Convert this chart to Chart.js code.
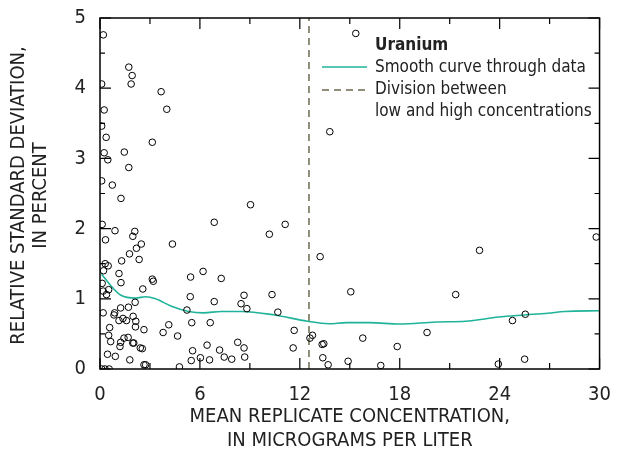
<!DOCTYPE html>
<html>
<head>
<meta charset="utf-8">
<script src="https://cdn.jsdelivr.net/npm/chart.js@4"></script>
<style>
  body { margin: 0; background: #fff; }
  canvas { display: block; }
</style>
</head>
<body>
<canvas id="rsdChart" width="617" height="457"></canvas>
<script>
// uranium replicate pairs: mean concentration (ug/L) and relative standard deviation (%)
const concX = [
  0.2, 1.73, 1.93, 0.1, 1.87, 3.67, 0.25, 4.01, 0.1, 0.37, 3.14, 0.25, 0.47, 1.46, 1.73, 0.1,
  0.74, 1.26, 0.13, 0.9, 2.09, 1.97, 0.33, 2.48, 2.19, 1.77, 2.35, 1.3, 0.31, 0.49, 0.21, 4.35,
  6.86, 1.14, 6.19, 5.44, 1.26, 3.14, 3.2, 0.13, 0.19, 0.52, 0.39, 2.57, 5.42, 2.11, 6.86, 0.19,
  0.88, 0.84, 1.24, 1.71, 5.22, 1.14, 1.38, 1.59, 1.99, 2.15, 2.13, 2.64, 4.13, 5.51, 6.62, 0.58,
  0.52, 0.64, 3.79, 4.66, 1.44, 1.69, 1.24, 1.2, 1.97, 2.03, 2.42, 2.54, 6.43, 0.45, 0.92, 5.56,
  1.79, 5.48, 6.03, 6.58, 2.64, 2.74, 4.77, 0.1, 0.3, 0.55, 9.04, 10.17, 11.12, 13.8, 13.22, 7.28,
  8.65, 8.47, 8.82, 10.33, 10.68, 11.66, 12.61, 12.76, 13.34, 13.44, 8.27, 8.65, 11.6, 7.18, 7.46, 7.91,
  8.69, 13.38, 13.7, 15.36, 15.06, 21.36, 15.78, 19.64, 17.85, 14.9, 16.86, 22.79, 29.8, 24.77, 25.54, 23.92,
  25.5
];
const rsdY = [
  4.76, 4.30, 4.18, 4.06, 4.06, 3.95, 3.69, 3.70, 3.46, 3.30, 3.23, 3.08, 2.98, 3.09, 2.87, 2.68,
  2.62, 2.43, 2.06, 1.97, 1.96, 1.89, 1.84, 1.78, 1.72, 1.64, 1.56, 1.54, 1.50, 1.47, 1.40, 1.78,
  2.09, 1.36, 1.39, 1.31, 1.23, 1.28, 1.25, 1.22, 1.11, 1.13, 1.06, 1.14, 1.03, 0.95, 0.96, 0.80,
  0.80, 0.77, 0.87, 0.88, 0.84, 0.69, 0.72, 0.69, 0.75, 0.68, 0.60, 0.56, 0.63, 0.66, 0.66, 0.59,
  0.48, 0.39, 0.52, 0.47, 0.44, 0.45, 0.38, 0.32, 0.37, 0.37, 0.30, 0.29, 0.34, 0.21, 0.18, 0.26,
  0.13, 0.12, 0.16, 0.13, 0.06, 0.06, 0.03, 0.0, 0.0, 0.0, 2.34, 1.92, 2.06, 3.38, 1.60, 1.29,
  1.05, 0.93, 0.86, 1.06, 0.81, 0.55, 0.44, 0.48, 0.35, 0.36, 0.38, 0.30, 0.30, 0.27, 0.17, 0.14,
  0.17, 0.16, 0.06, 4.78, 1.10, 1.06, 0.44, 0.52, 0.32, 0.11, 0.05, 1.69, 1.88, 0.69, 0.78, 0.07,
  0.14
];

// smoothed curve
const curveX = [0.1, 0.6, 1.26, 2.15, 2.74, 3.34, 4.33, 5.32, 6.21, 7.3, 8.48, 10.47, 12.45, 13.74, 14.8, 16.2, 18.0, 20.17, 21.95, 23.93, 25.52, 26.9, 27.9, 30];
const curveY = [1.35, 1.2, 1.05, 1.01, 1.03, 1.0, 0.89, 0.82, 0.80, 0.82, 0.82, 0.77, 0.68, 0.645, 0.66, 0.66, 0.64, 0.67, 0.68, 0.74, 0.77, 0.795, 0.82, 0.83];

// low/high concentration split
const divisionX = 12.55;
const rsdRange = [0, 5];

const xTicks = [0, 6, 12, 18, 24, 30];
const yTicks = [0, 1, 2, 3, 4, 5];

const FONT = "'Liberation Sans Narrow', 'DejaVu Sans Condensed', 'Roboto Condensed', sans-serif";
const TEAL = '#1fb39a';
const OLIVE = '#6c6a4c';

// inward ticks on all four sides plus the top/right frame
const frameTicks = {
  id: 'frameTicks',
  afterDatasetsDraw(chart) {
    const { ctx, chartArea: a, scales } = chart;
    const xs = scales.x, ys = scales.y;
    ctx.save();
    ctx.strokeStyle = '#000';
    ctx.lineWidth = 1.5;
    ctx.strokeRect(a.left, a.top, a.right - a.left, a.bottom - a.top);
    ctx.lineWidth = 1.2;
    ctx.beginPath();
    for (let v = 0; v <= 30; v += 3) {
      const px = xs.getPixelForValue(v);
      const len = v % 6 === 0 ? 11 : 6;
      ctx.moveTo(px, a.bottom); ctx.lineTo(px, a.bottom - len);
      ctx.moveTo(px, a.top); ctx.lineTo(px, a.top + len);
    }
    for (let v = 0; v <= 5; v += 0.5) {
      const py = ys.getPixelForValue(v);
      const len = v % 1 === 0 ? 11 : 5;
      ctx.moveTo(a.left, py); ctx.lineTo(a.left + len, py);
      ctx.moveTo(a.right, py); ctx.lineTo(a.right - len, py);
    }
    ctx.stroke();
    ctx.restore();
  }
};

// y-axis title and the key in the upper right
const annotations = {
  id: 'annotations',
  afterDraw(chart) {
    const { ctx, chartArea: a } = chart;
    ctx.save();
    ctx.fillStyle = '#222';
    ctx.textBaseline = 'middle';
    ctx.textAlign = 'center';
    ctx.font = '20px ' + FONT;
    ctx.translate(19, (a.top + a.bottom) / 2 + 2);
    ctx.rotate(-Math.PI / 2);
    ctx.fillText('RELATIVE STANDARD DEVIATION,', 0, 0);
    ctx.fillText('IN PERCENT', 0, 22);
    ctx.restore();

    ctx.save();
    ctx.fillStyle = '#222';
    ctx.textBaseline = 'middle';
    ctx.textAlign = 'left';
    ctx.font = 'bold 17px ' + FONT;
    ctx.fillText('Uranium', 375, 46);
    ctx.font = '17px ' + FONT;
    ctx.fillText('Smooth curve through data', 375, 68);
    ctx.fillText('Division between', 375, 90);
    ctx.fillText('low and high concentrations', 375, 112);
    ctx.lineWidth = 1.6;
    ctx.strokeStyle = TEAL;
    ctx.beginPath(); ctx.moveTo(322, 67); ctx.lineTo(367, 67); ctx.stroke();
    ctx.strokeStyle = OLIVE;
    ctx.setLineDash([7, 5]);
    ctx.beginPath(); ctx.moveTo(322, 90); ctx.lineTo(367, 90); ctx.stroke();
    ctx.restore();
  }
};

new Chart(document.getElementById('rsdChart').getContext('2d'), {
  type: 'scatter',
  data: {
    datasets: [
      {
        label: 'Replicate pairs',
        data: concX.map((x, i) => ({ x: x, y: rsdY[i] })),
        pointStyle: 'circle',
        pointRadius: 3.3,
        pointBorderWidth: 1,
        pointBorderColor: '#000',
        pointBackgroundColor: 'rgba(0,0,0,0)',
        order: 1
      },
      {
        label: 'Smooth curve through data',
        data: curveX.map((x, i) => ({ x: x, y: curveY[i] })),
        showLine: true,
        borderColor: TEAL,
        borderWidth: 1.6,
        pointRadius: 0,
        cubicInterpolationMode: 'monotone',
        order: 2
      },
      {
        label: 'Division between low and high concentrations',
        data: rsdRange.map(y => ({ x: divisionX, y: y })),
        showLine: true,
        borderColor: OLIVE,
        borderWidth: 1.5,
        borderDash: [7, 5],
        pointRadius: 0,
        order: 3
      }
    ]
  },
  options: {
    responsive: false,
    animation: false,
    layout: { padding: { top: 15, right: 12, left: 0, bottom: 0 } },
    plugins: {
      legend: { display: false },
      tooltip: { enabled: false }
    },
    scales: {
      x: {
        type: 'linear',
        min: 0,
        max: 30,
        afterBuildTicks: s => { s.ticks = xTicks.map(v => ({ value: v })); },
        afterFit: s => { s.height = 88; },
        grid: { display: false },
        border: { display: false },
        ticks: { color: '#222', font: { family: FONT, size: 20 }, padding: 6, maxRotation: 0 },
        title: {
          display: true,
          text: ['MEAN REPLICATE CONCENTRATION,', 'IN MICROGRAMS PER LITER'],
          color: '#222',
          font: { family: FONT, size: 20, lineHeight: 1.22 },
          padding: { top: 0, bottom: 4 }
        }
      },
      y: {
        type: 'linear',
        min: 0,
        max: 5,
        afterBuildTicks: s => { s.ticks = yTicks.map(v => ({ value: v })); },
        afterFit: s => { s.width = 100; },
        grid: { display: false },
        border: { display: false },
        ticks: { color: '#222', font: { family: FONT, size: 20 }, padding: 6 }
      }
    }
  },
  plugins: [frameTicks, annotations]
});
</script>
</body>
</html>
